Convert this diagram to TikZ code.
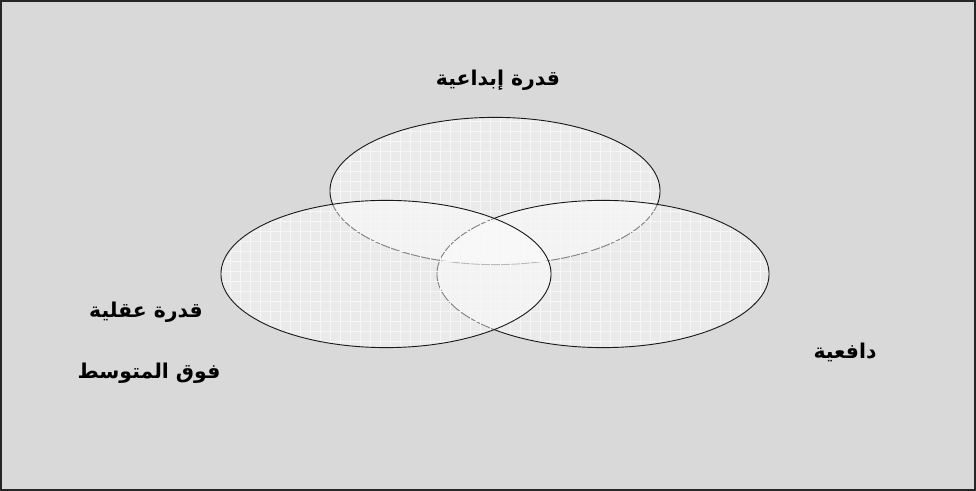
\documentclass[tikz,border=0pt]{standalone}
\usepackage{fontspec}
\usetikzlibrary{shapes.geometric,patterns.meta}
\newfontfamily\arabicfont[Script=Arabic]{DejaVu Sans}
\TeXXeTstate=1
\definecolor{sheet}{HTML}{D9D9D9}
\definecolor{gridln}{HTML}{F6F6F6}
\tikzset{
  blob/.style ={draw=black!90, ellipse, line width=0.65pt,
                minimum width=8.25cm, minimum height=3.68cm,
                preaction={fill=white, fill opacity=0.45},
                preaction={pattern={Hatch[angle=0,distance=2.5mm,line width=0.4pt]},
                           pattern color=gridln}},
  lbl/.style  ={font=\arabicfont\bfseries\fontsize{14.5}{17}\selectfont,
                text=black, inner sep=1pt},
}

\begin{document}
\begin{tikzpicture}[x=0.025cm, y=-0.025cm]
  \useasboundingbox (0,0) rectangle (976,491);
  % sheet and frame
  \draw[fill=sheet, draw=black!85, line width=1.6pt] (1,1) rectangle (975,490);

  % three circles, top one first
  \node[blob] (ibdaa) at (495,191) {};
  \node[blob, minimum width=8.3cm] (dafi) at (603,274) {};
  \node[blob] (aqli)  at (386,274) {};

  % labels
  \node[lbl] (tIbdaa) at (498,80)  {\beginR قدرة إبداعية\endR};
  \node[lbl] (tAqli)  at (146,312) {\beginR قدرة عقلية\endR};
  \node[lbl] (tFawq)  at (149,373) {\beginR فوق المتوسط\endR};
  \node[lbl] (tDafi)  at (845,352) {\beginR دافعية\endR};
\end{tikzpicture}
\end{document}
